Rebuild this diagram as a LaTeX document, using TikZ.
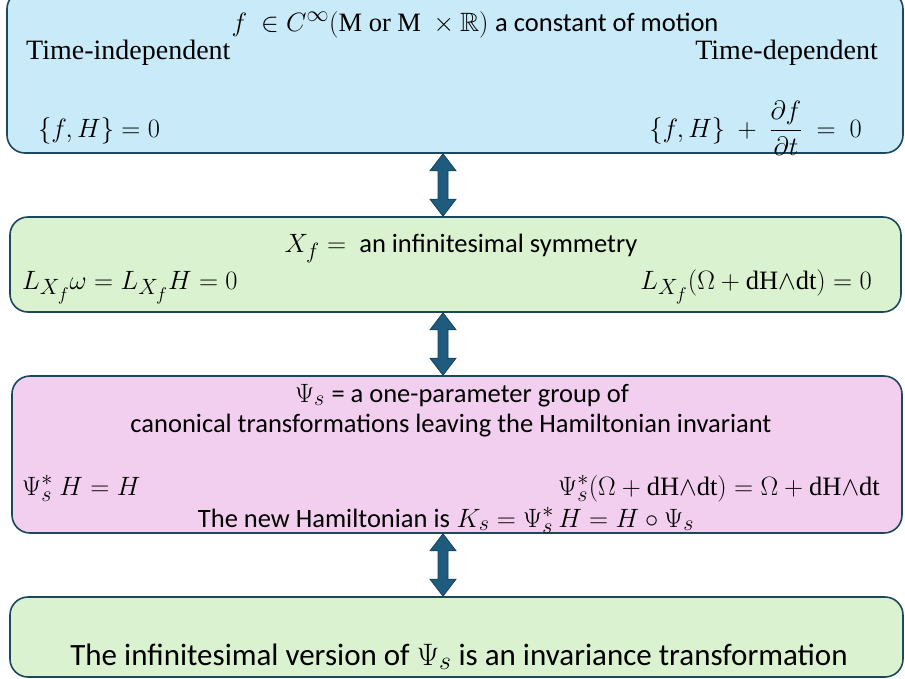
\documentclass[tikz,border=0pt]{standalone}
\usepackage{amsmath,amssymb}
\usepackage{fontspec}
\usetikzlibrary{calc}
\setmainfont{Liberation Serif}
\newfontfamily\sansfnt{Carlito}
\definecolor{bluefill}{RGB}{201,234,249}
\definecolor{greenfill}{RGB}{218,242,208}
\definecolor{pinkfill}{RGB}{242,206,239}
\definecolor{edgecol}{RGB}{27,72,92}
\definecolor{arrowfill}{RGB}{31,91,124}
\definecolor{arrowedge}{RGB}{22,66,90}
\newcommand{\wdg}{\mathord{\wedge}}
\newcommand{\sx}[1]{\scalebox{1.065}{#1}}
\newcommand{\bx}[1]{\scalebox{1.246}{#1}}
\tikzset{
  panel/.style={draw=edgecol, line width=1.6pt, rounded corners=18pt, inner sep=0pt},
  txt/.style={inner sep=0pt, anchor=base, font=\fontsize{24.88}{28}\selectfont},
  sertxt/.style={inner sep=0pt, font=\fontsize{28}{32}\selectfont},
  bigtxt/.style={inner sep=0pt, anchor=base, font=\fontsize{24.88}{28}\selectfont\sansfnt},
  blockarrow/.style={fill=arrowfill, draw=arrowedge, line width=0.8pt, line join=miter}
}
\begin{document}
\begin{tikzpicture}[x=1pt,y=-1pt]
\useasboundingbox (0,0) rectangle (905,678);
\clip (0,0) rectangle (905,678);
% panels
\node[panel, fill=bluefill, minimum width=896pt, minimum height=162pt] (b1) at (455,72) {};
\node[panel, fill=greenfill, minimum width=891pt, minimum height=95pt] (b2) at (455.5,264.5) {};
\node[panel, fill=pinkfill, minimum width=890pt, minimum height=157pt] (b3) at (457,454.5) {};
\node[panel, fill=greenfill, minimum width=893pt, minimum height=80pt] (b4) at (456.5,637) {};
% arrows
\foreach \a/\b in {b1/b2,b2/b3,b3/b4}{
  \filldraw[blockarrow] let \p1=(\a.south), \p2=(\b.north) in
    (443pt,\y1) -- (456pt,\y1-17pt) -- (448pt,\y1-17pt) -- (448pt,\y2+17pt) -- (456pt,\y2+17pt)
    -- (443pt,\y2) -- (430pt,\y2+17pt) -- (438pt,\y2+17pt) -- (438pt,\y1-17pt) -- (430pt,\y1-17pt) -- cycle;
}
% box 1
\node[txt] (t1) at (475,31) {\sx{$f\ \in C^{\infty}(\mathrm{M\ or\ M}\ \times\mathbb{R})$ {\sansfnt a constant of motion}}};
\node[sertxt, anchor=base west] (t2) at (26,59) {Time-independent};
\node[sertxt, anchor=base east] (t3) at (878,59) {Time-dependent};
\node[txt, anchor=base west] (t4) at (38,137) {\sx{$\{f,H\}=0$}};
\node[txt, anchor=base east] (t5) at (862,137) {\sx{$\{f,H\}\ +\ \dfrac{\partial f}{\partial t}\ =\ 0$}};
% box 2
\node[txt] (t6) at (461,252) {\sx{$X_f=\ $ {\sansfnt an infinitesimal symmetry}}};
\node[txt, anchor=base west] (t7) at (22,289) {\sx{$L_{X_f}\omega = L_{X_f}H = 0$}};
\node[txt, anchor=base east] (t8) at (872,289) {\sx{$L_{X_f}(\Omega+\mathrm{dH}\wdg\mathrm{dt}) = 0$}};
% box 3
\node[txt] (t9) at (462,402) {\sx{$\Psi_s$ {\sansfnt = a one-parameter group of}}};
\node[txt] (t10) at (451,432) {\sx{\sansfnt canonical transformations leaving the Hamiltonian invariant}};
\node[txt, anchor=base west] (t11) at (22,495) {\sx{$\Psi_s^{*}\ H = H$}};
\node[txt, anchor=base east] (t12) at (880,495) {\sx{$\Psi_s^{*}(\Omega+\mathrm{dH}\wdg\mathrm{dt}) = \Omega+\mathrm{dH}\wdg\mathrm{dt}$}};
\node[txt] (t13) at (446,527) {\sx{{\sansfnt The new Hamiltonian is} $K_s=\Psi_s^{*}\,H = H\circ\Psi_s$}};
% box 4
\node[bigtxt] (t14) at (459,665) {\bx{The infinitesimal version of $\Psi_s$ is an invariance transformation}};
\end{tikzpicture}
\end{document}
